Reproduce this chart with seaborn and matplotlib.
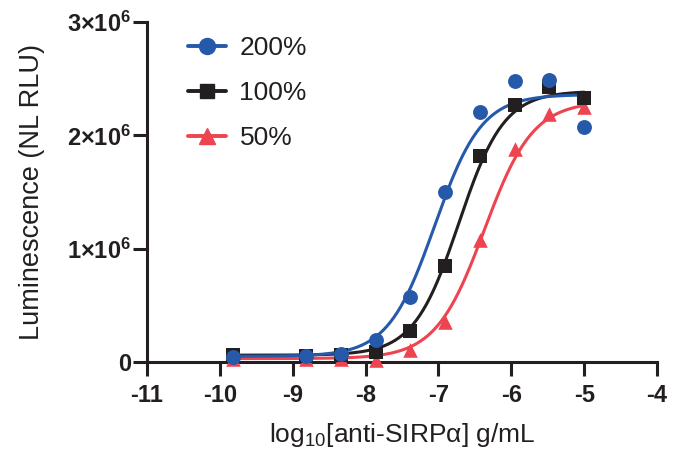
import numpy as np
import pandas as pd
import matplotlib
matplotlib.use("Agg")
import matplotlib.pyplot as plt
import seaborn as sns
from matplotlib.lines import Line2D
from matplotlib.ticker import FixedLocator, FixedFormatter

# ---- data ----
log_conc = [-9.82, -8.82, -8.34, -7.86, -7.39, -6.91, -6.43, -5.95, -5.48, -5.0]
series_names = ["200%", "100%", "50%"]
y_200 = [0.045e6, 0.05e6, 0.07e6, 0.19e6, 0.57e6, 1.50e6, 2.21e6, 2.48e6, 2.49e6, 2.07e6]
y_100 = [0.06e6, 0.055e6, 0.06e6, 0.09e6, 0.27e6, 0.85e6, 1.82e6, 2.27e6, 2.43e6, 2.33e6]
y_50 = [0.03e6, 0.03e6, 0.03e6, 0.02e6, 0.11e6, 0.35e6, 1.08e6, 1.88e6, 2.19e6, 2.25e6]

# four-parameter logistic fit parameters: bottom, top, logEC50, hill
fit_200 = [0.05e6, 2.36e6, -7.05, 1.35]
fit_100 = [0.06e6, 2.39e6, -6.72, 1.40]
fit_50 = [0.03e6, 2.30e6, -6.37, 1.30]

x_ticks = [-11, -10, -9, -8, -7, -6, -5, -4]
y_ticks = [0, 1e6, 2e6, 3e6]
y_tick_labels = ["0", r"$\mathbf{1{\times}10^{6}}$", r"$\mathbf{2{\times}10^{6}}$", r"$\mathbf{3{\times}10^{6}}$"]

colors = {"200%": "#2659AA", "100%": "#231F20", "50%": "#EE4450"}
markers = {"200%": "o", "100%": "s", "50%": "^"}
msizes = {"200%": 115, "100%": 100, "50%": 110}

sns.set_style("white")
plt.rcParams["font.family"] = ["Liberation Sans", "DejaVu Sans"]
plt.rcParams["mathtext.fontset"] = "custom"
plt.rcParams["mathtext.rm"] = "Liberation Sans"
plt.rcParams["mathtext.bf"] = "Liberation Sans:bold"
plt.rcParams["mathtext.it"] = "Liberation Sans:italic"

points = pd.DataFrame({
    "x": log_conc * 3,
    "y": y_200 + y_100 + y_50,
    "series": ["200%"] * 10 + ["100%"] * 10 + ["50%"] * 10,
})

xx = np.linspace(-9.82, -5.0, 300)
curve_rows = []
for name, p in zip(series_names, [fit_200, fit_100, fit_50]):
    b, t, ec, h = p
    yy = b + (t - b) / (1 + 10 ** ((ec - xx) * h))
    curve_rows.append(pd.DataFrame({"x": xx, "y": yy, "series": name}))
curves = pd.concat(curve_rows)

fig = plt.figure(figsize=(6.73, 4.49), dpi=100)
ax = fig.add_axes([0.2184, 0.1938, 0.7578, 0.7572])

order = ["50%", "100%", "200%"]
for z, name in enumerate(order):
    sub_c = curves[curves.series == name]
    sns.lineplot(data=sub_c, x="x", y="y", color=colors[name], lw=2.2, ax=ax,
                 zorder=3 + z, legend=False, clip_on=False)
    sub_p = points[points.series == name]
    sns.scatterplot(data=sub_p, x="x", y="y", color=colors[name], marker=markers[name],
                    s=msizes[name], linewidth=0, ax=ax, zorder=6 + z, legend=False, clip_on=False)

ax.set_xlim(-11, -4)
ax.set_ylim(0, 3e6)
ax.xaxis.set_major_locator(FixedLocator(x_ticks))
ax.set_xticklabels([str(t) for t in x_ticks])
ax.yaxis.set_major_locator(FixedLocator(y_ticks))
ax.yaxis.set_major_formatter(FixedFormatter(y_tick_labels))

for s in ["top", "right"]:
    ax.spines[s].set_visible(False)
for s in ["left", "bottom"]:
    ax.spines[s].set_linewidth(2.2)
    ax.spines[s].set_color("#231F20")

ax.tick_params(axis="both", direction="out", length=10, width=2.2, color="#231F20",
               labelsize=17, left=True, bottom=True)
ax.tick_params(axis="x", pad=6)
ax.tick_params(axis="y", pad=1.5)
for lab in ax.get_xticklabels() + ax.get_yticklabels():
    lab.set_fontweight("bold")
    lab.set_color("#231F20")

ax.set_xlabel(r"log$_{10}$[anti-SIRPα] g/mL", fontsize=19, color="#231F20", labelpad=10)
ax.set_ylabel("Luminescence (NL RLU)", fontsize=19.5, color="#231F20", labelpad=16)

handles = [Line2D([0], [0], color=colors[n], lw=2.8, marker=markers[n],
                  markersize=11.5 if n != "100%" else 10.5)
           for n in series_names]
leg = fig.legend(handles, series_names, loc="upper left", bbox_to_anchor=(188 / 673, 1 - 36 / 449),
                 frameon=False, fontsize=19, handlelength=1.45, labelspacing=0.8,
                 handletextpad=0.5, borderpad=0, borderaxespad=0)
for t in leg.get_texts():
    t.set_color("#231F20")

fig.savefig("out.png", dpi=100)
